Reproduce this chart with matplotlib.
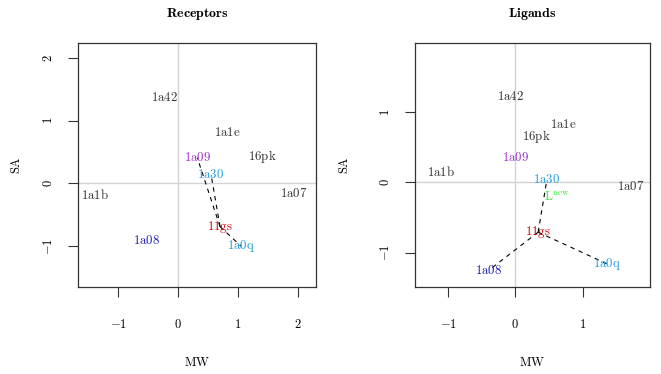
import numpy as np
import matplotlib
matplotlib.use("Agg")
import matplotlib.pyplot as plt

plt.rcParams['mathtext.fontset'] = 'cm'
plt.rcParams['font.size'] = 9

# receptors panel (MW, SA) for each structure
rec_names = ['1a42', '1a1e', '16pk', '1a09', '1a30', '1a1b', '1a07', '11gs', '1a0q', '1a08']
rec_mw = [-0.22, 0.82, 1.40, 0.32, 0.55, -1.38, 1.93, 0.70, 1.05, -0.53]
rec_sa = [1.37, 0.81, 0.43, 0.41, 0.14, -0.19, -0.16, -0.69, -1.00, -0.91]
rec_links = [('11gs', '1a09'), ('11gs', '1a30'), ('11gs', '1a0q')]

# ligands panel
lig_names = ['1a42', '1a1e', '16pk', '1a09', '1a1b', '1a30', '1a07', 'Lnew', '11gs', '1a08', '1a0q']
lig_mw = [-0.07, 0.71, 0.32, 0.01, -1.11, 0.47, 1.72, 0.62, 0.34, -0.39, 1.36]
lig_sa = [1.22, 0.82, 0.65, 0.36, 0.15, 0.04, -0.06, -0.22, -0.71, -1.25, -1.16]
lig_links = [('11gs', '1a30'), ('11gs', '1a08'), ('11gs', '1a0q')]

colours = {'1a09': '#9A32CD', '1a30': '#1E9BE0', '1a0q': '#1E9BE0',
           '11gs': '#CD0000', '1a08': '#1C1CB8', 'Lnew': '#33EE33'}
grey_txt = '#333333'

rec_xticks = [-1, 0, 1, 2]
rec_yticks = [-1, 0, 1, 2]
lig_xticks = [-1, 0, 1]
lig_yticks = [-1, 0, 1]


def label(name):
    if name == 'Lnew':
        return r'$\mathrm{L}^{\mathrm{new}}$'
    return r'$\mathrm{' + name + '}$'


def panel(ax, title, names, mw, sa, links, xticks, yticks, xlim, ylim, ypad):
    ax.axvline(0, color='#D3D3D3', lw=1, zorder=0)
    ax.axhline(0, color='#D3D3D3', lw=1, zorder=0)
    pos = {n: (x, y) for n, x, y in zip(names, mw, sa)}
    for a, b in links:
        ax.plot([pos[a][0], pos[b][0]], [pos[a][1], pos[b][1]], color='black',
                lw=0.8, linestyle=(0, (4, 4)), zorder=1)
    for n, x, y in zip(names, mw, sa):
        ax.text(x, y, label(n), color=colours.get(n, grey_txt), ha='center',
                va='center', fontsize=9.3, zorder=2)
    ax.set_xlim(*xlim)
    ax.set_ylim(*ylim)
    ax.set_xticks(xticks)
    ax.set_yticks(yticks)
    ax.set_xticklabels([r'$%d$' % t for t in xticks])
    ax.set_yticklabels([r'$%d$' % t for t in yticks], rotation=90, va='center')
    ax.tick_params(direction='out', length=7.5, width=0.8, colors='#333333',
                   labelcolor='black', labelsize=9)
    ax.tick_params(axis='x', pad=15)
    ax.tick_params(axis='y', pad=9)
    for s in ax.spines.values():
        s.set_color('#333333')
        s.set_linewidth(0.9)
    ax.set_title(r'$\mathbf{' + title + '}$', fontsize=10, pad=19)
    ax.set_xlabel(r'$\mathrm{MW}$', fontsize=9, labelpad=18)
    ax.set_ylabel(r'$\mathrm{SA}$', fontsize=9, labelpad=ypad)


fig = plt.figure(figsize=(6.61, 3.74), dpi=100)
ax1 = fig.add_axes([0.118, 0.233, 0.360, 0.652])
ax2 = fig.add_axes([0.628, 0.233, 0.355, 0.652])

panel(ax1, 'Receptors', rec_names, rec_mw, rec_sa, rec_links,
      rec_xticks, rec_yticks, (-1.67, 2.3), (-1.65, 2.24), 14)
panel(ax2, 'Ligands', lig_names, lig_mw, lig_sa, lig_links,
      lig_xticks, lig_yticks, (-1.49, 2.0), (-1.49, 1.99), 20)

fig.savefig('out.png', dpi=100)
